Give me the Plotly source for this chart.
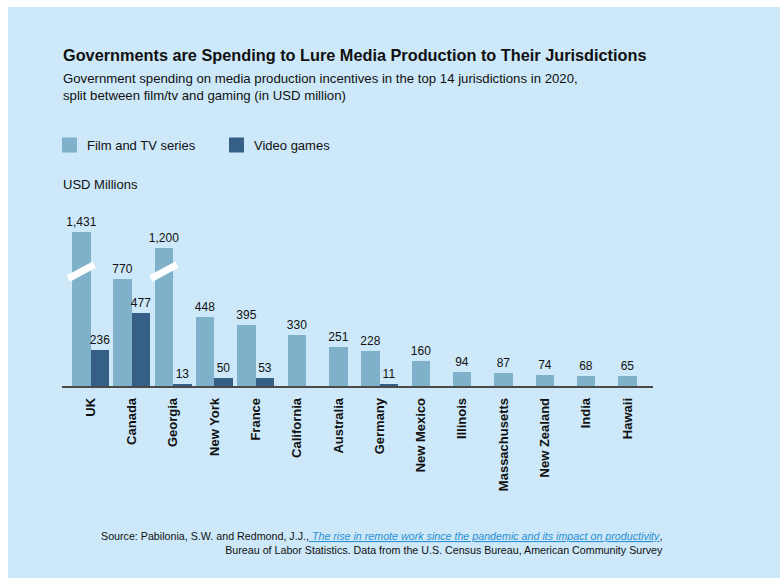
import plotly.graph_objects as go

# ---------------- data ----------------
jurisdictions = ["UK", "Canada", "Georgia", "New York", "France", "California",
                 "Australia", "Germany", "New Mexico", "Illinois", "Massachusetts",
                 "New Zealand", "India", "Hawaii"]
film_tv = [1431, 770, 1200, 448, 395, 330, 251, 228, 160, 94, 87, 74, 68, 65]
video_games = [236, 477, 13, 50, 53, None, None, 11, None, None, None, None, None, None]
series_names = ["Film and TV series", "Video games"]
broken_bars = ["UK", "Georgia"]

title = "Governments are Spending to Lure Media Production to Their Jurisdictions"
subtitle = ("Government spending on media production incentives in the top 14 jurisdictions in 2020,<br>"
            "split between film/tv and gaming (in USD million)")
y_label = "USD Millions"

# ---------------- style ----------------
FILM_COLOR = "#7fb2ca"
GAME_COLOR = "#365f86"
BG = "#cce8f9"
TXT = "#111111"
FONT = "Liberation Sans, Arial, sans-serif"

W, H = 780, 578
M_L, M_R, M_T, M_B = 62, 127, 200, 192
PLOT_H = H - M_T - M_B
PX_PER_UNIT = 0.1535
BAR_W = 0.448

# broken-axis scale: values above BREAK are compressed
BREAK, SQUEEZE = 640, 0.46
def axis_scale(v):
    if v is None:
        return None
    return v if v <= BREAK else BREAK + (v - BREAK) * SQUEEZE

y_max = PLOT_H / PX_PER_UNIT

has_game = [g is not None for g in video_games]
film_offset = [-BAR_W if h else -BAR_W / 2 for h in has_game]

label_font = dict(size=12, color=TXT, family=FONT)

fig = go.Figure()
fig.add_trace(go.Bar(
    x=jurisdictions, y=[axis_scale(v) for v in film_tv],
    width=BAR_W, offset=film_offset,
    marker=dict(color=FILM_COLOR, line=dict(width=0)),
    text=[f"{v:,}" for v in film_tv], textposition="outside",
    textfont=label_font, outsidetextfont=label_font, constraintext="none",
    cliponaxis=False, name=series_names[0], showlegend=False,
))
fig.add_trace(go.Bar(
    x=jurisdictions, y=video_games,
    width=BAR_W, offset=0,
    marker=dict(color=GAME_COLOR, line=dict(width=0)),
    text=[f"{v:,}" if v is not None else "" for v in video_games], textposition="outside",
    textfont=label_font, outsidetextfont=label_font, insidetextfont=label_font,
    constraintext="none",
    cliponaxis=False, name=series_names[1], showlegend=False,
))

shapes = []
annotations = []

def px_x(px):
    return (px - M_L) / (W - M_L - M_R)

def px_y(py):
    return (H - M_B - py) / PLOT_H

# background panel with white border
shapes.append(dict(type="rect", xref="paper", yref="paper", layer="below",
                   x0=px_x(8), x1=px_x(781), y0=px_y(579), y1=px_y(7),
                   fillcolor=BG, line=dict(width=0)))

# break marks on the broken bars
mark_y = 745
dy_units = 7 / PX_PER_UNIT
dx_cat = 13 / 41.3
for name in broken_bars:
    i = jurisdictions.index(name)
    cx = i + film_offset[i] + BAR_W / 2
    shapes.append(dict(type="line", xref="x", yref="y",
                       x0=cx - dx_cat, x1=cx + dx_cat,
                       y0=mark_y - dy_units, y1=mark_y + dy_units,
                       line=dict(color="white", width=7)))

# manual legend
leg_y = 145
for k, (nm, col, x0) in enumerate(zip(series_names, [FILM_COLOR, GAME_COLOR], [62, 229])):
    shapes.append(dict(type="rect", xref="paper", yref="paper",
                       x0=px_x(x0), x1=px_x(x0 + 15), y0=px_y(leg_y + 7.5), y1=px_y(leg_y - 7.5),
                       fillcolor=col, line=dict(width=0)))
    annotations.append(dict(text=nm, xref="paper", yref="paper", x=px_x(x0 + 23), y=px_y(leg_y),
                            xanchor="left", yanchor="middle", showarrow=False,
                            font=dict(size=13, color=TXT, family=FONT)))

annotations.append(dict(text=f"<b>{title}</b>", xref="paper", yref="paper",
                        x=px_x(61), y=px_y(55), xanchor="left", yanchor="middle",
                        showarrow=False, font=dict(size=16.3, color=TXT, family=FONT)))
annotations.append(dict(text=subtitle, xref="paper", yref="paper", align="left",
                        x=px_x(61), y=px_y(87), xanchor="left", yanchor="middle",
                        showarrow=False, font=dict(size=13.2, color=TXT, family=FONT)))
annotations.append(dict(text=y_label, xref="paper", yref="paper",
                        x=px_x(61), y=px_y(184), xanchor="left", yanchor="middle",
                        showarrow=False, font=dict(size=13, color=TXT, family=FONT)))

source = ("Source: Pabilonia, S.W. and Redmond, J.J.,"
          "<span style='color:#2b8fd3;text-decoration:underline'><i> "
          "<a href='https://www.bls.gov/' style='color:#2b8fd3'>The rise in remote work since the pandemic and its impact on productivity</a>"
          "</i></span>,<br>"
          "Bureau of Labor Statistics. Data from the U.S. Census Bureau, American Community Survey")
annotations.append(dict(text=source, xref="paper", yref="paper", align="right",
                        x=px_x(665), y=px_y(543), xanchor="right", yanchor="middle",
                        showarrow=False, font=dict(size=10.7, color=TXT, family=FONT)))

fig.update_layout(
    width=W, height=H,
    margin=dict(l=M_L, r=M_R, t=M_T, b=M_B, pad=0),
    paper_bgcolor="white", plot_bgcolor="rgba(0,0,0,0)",
    barmode="overlay", bargap=0,
    font=dict(family=FONT, color=TXT),
    shapes=shapes, annotations=annotations,
    xaxis=dict(type="category", categoryorder="array", categoryarray=jurisdictions,
               range=[-0.69, 13.62], showgrid=False, zeroline=False,
               showline=True, linecolor="#4a4a4a", linewidth=1.5,
               ticks="", tickangle=-90, ticklabelstandoff=5,
               tickfont=dict(size=13, color=TXT, family=FONT),
               tickvals=jurisdictions, ticktext=[f"<b>{j}</b>" for j in jurisdictions]),
    yaxis=dict(range=[0, y_max], visible=False, showgrid=False, zeroline=False),
    showlegend=False,
)

fig.write_html("out.html")
